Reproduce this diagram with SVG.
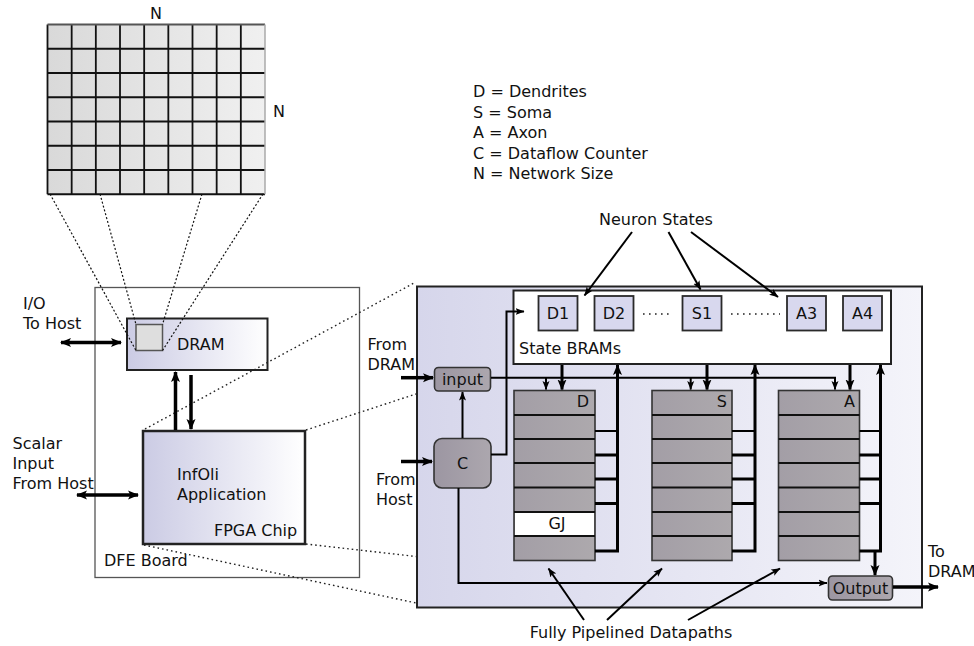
<svg xmlns="http://www.w3.org/2000/svg" width="974" height="646" viewBox="0 0 974 646">
<style>
text{font-family:"DejaVu Sans","Liberation Sans",sans-serif;font-size:16px;fill:#111}
.mid{text-anchor:middle}
.end{text-anchor:end}
.gl{stroke:#111;stroke-width:1.8;fill:none}
.dot1{stroke:#111;stroke-width:1.2;stroke-dasharray:2 2;fill:none}
.dot2{stroke:#222;stroke-width:1.4;stroke-dasharray:1.6 3;fill:none}
.thk{stroke:#000;stroke-width:3.5;fill:none}
.th3{stroke:#000;stroke-width:3;fill:none}
.thn{stroke:#000;stroke-width:2;fill:none}
.box{stroke:#222;stroke-width:2}
.st{fill:#d8d8ee;stroke:#2a2a2a;stroke-width:1.8}
.pipe{fill:url(#gPipe);stroke:#333;stroke-width:1.6}
.row{stroke:#111;stroke-width:2}
.proc{fill:url(#gProc);stroke:#333;stroke-width:1.6}
</style>
<defs>
<linearGradient id="gGrid" x1="0" x2="1" y1="0" y2="0"><stop offset="0" stop-color="#d9d9d9"/><stop offset="1" stop-color="#f0f0f0"/></linearGradient>
<linearGradient id="gBig" x1="0" x2="1" y1="0" y2="0"><stop offset="0" stop-color="#d6d6eb"/><stop offset="1" stop-color="#f4f4fa"/></linearGradient>
<linearGradient id="gChip" x1="0" x2="1" y1="0" y2="0"><stop offset="0" stop-color="#cbcbe4"/><stop offset="1" stop-color="#ffffff"/></linearGradient>
<linearGradient id="gPipe" x1="0" x2="1" y1="0" y2="0"><stop offset="0" stop-color="#a39ea6"/><stop offset="1" stop-color="#ada9ad"/></linearGradient>
<linearGradient id="gProc" x1="0" x2="1" y1="0" y2="0"><stop offset="0" stop-color="#9c96a2"/><stop offset="1" stop-color="#aca7ae"/></linearGradient>
<marker id="ah" markerUnits="userSpaceOnUse" markerWidth="12" markerHeight="10" refX="10" refY="5" orient="auto-start-reverse"><path d="M0,0.5 L11,5 L0,9.5 L2.5,5 z" fill="#000"/></marker>
<marker id="as" markerUnits="userSpaceOnUse" markerWidth="10" markerHeight="8" refX="8.5" refY="4" orient="auto-start-reverse"><path d="M0,0.5 L9,4 L0,7.5 L2,4 z" fill="#000"/></marker>
</defs>

<!-- Network grid -->
<g id="grid">
<rect x="47.5" y="24.5" width="217.5" height="169.75" fill="url(#gGrid)"/>
<g class="gl">
<path d="M47.5,24.5V194.25M71.67,24.5V194.25M95.83,24.5V194.25M120,24.5V194.25M144.17,24.5V194.25M168.33,24.5V194.25M192.5,24.5V194.25M216.67,24.5V194.25M240.83,24.5V194.25"/>
<path d="M47.5,48.75H265M47.5,73H265M47.5,97.25H265M47.5,121.5H265M47.5,145.75H265M47.5,170H265M47.5,194.25H265"/>
</g>
<path d="M47.5,24.5H265" stroke="#555" stroke-width="2"/>
<path d="M265,24.5V194.25" stroke="#aaa" stroke-width="1.5"/>
<text x="156" y="19" class="mid">N</text>
<text x="279" y="117" class="mid">N</text>
</g>

<!-- Legend -->
<g id="legend">
<text x="473" y="97">D = Dendrites</text>
<text x="473" y="117.5">S = Soma</text>
<text x="473" y="138">A = Axon</text>
<text x="473" y="158.5">C = Dataflow Counter</text>
<text x="473" y="179">N = Network Size</text>
</g>

<!-- DFE board side -->
<g id="dfe-board">
<rect x="95" y="287.5" width="264.5" height="290" fill="#fff" stroke="#555" stroke-width="1.3"/>
<text x="104" y="566">DFE Board</text>
</g>
<g id="dram">
<rect x="127" y="318.5" width="140.5" height="51.5" fill="url(#gChip)" class="box"/>
<rect x="136" y="324.5" width="26.5" height="26" fill="#dedede" stroke="#555" stroke-width="1.5"/>
<text x="177" y="349.5">DRAM</text>
</g>
<g id="fpga">
<rect x="143" y="431" width="162" height="113" fill="url(#gChip)" stroke="#222" stroke-width="2.5"/>
<text x="177" y="480">InfOli</text>
<text x="177" y="500">Application</text>
<text x="214" y="536">FPGA Chip</text>
</g>
<g id="left-labels">
<text x="23" y="309">I/O</text>
<text x="23" y="329">To Host</text>
<text x="12.5" y="449">Scalar</text>
<text x="12.5" y="469">Input</text>
<text x="12.5" y="489">From Host</text>
</g>

<!-- Big FPGA detail box -->
<g id="fpga-detail">
<rect x="417" y="286.5" width="505" height="321" fill="url(#gBig)" stroke="#222" stroke-width="2"/>
<text x="367.5" y="349.5">From</text>
<text x="367.5" y="369.5">DRAM</text>
<text x="376" y="485">From</text>
<text x="376" y="505">Host</text>
<text x="928" y="557">To</text>
<text x="928" y="577">DRAM</text>
</g>

<g id="state-brams">
<rect x="513.5" y="290.5" width="377.5" height="73.5" fill="#fff" class="box"/>
<text x="519" y="354">State BRAMs</text>
<rect class="st" x="538.5" y="296" width="39" height="34.5"/><text class="mid" x="558" y="319">D1</text>
<rect class="st" x="594.5" y="296" width="39" height="34.5"/><text class="mid" x="614" y="319">D2</text>
<rect class="st" x="682.5" y="296" width="39" height="34.5"/><text class="mid" x="702" y="319">S1</text>
<rect class="st" x="787" y="296" width="39" height="34.5"/><text class="mid" x="806.5" y="319">A3</text>
<rect class="st" x="843" y="296" width="39" height="34.5"/><text class="mid" x="862.5" y="319">A4</text>
<path d="M643,314H673M731,314H780" stroke="#222" stroke-width="1.6" stroke-dasharray="1.6 4.4"/>
</g>

<g id="input">
<rect x="434.5" y="367.5" width="56" height="23.5" rx="4" class="proc"/>
<text class="mid" x="462.5" y="384.5">input</text>
</g>
<g id="counter">
<rect x="434" y="438.5" width="57" height="49.5" rx="8" class="proc"/>
<text class="mid" x="462.5" y="468.5">C</text>
</g>
<g id="output">
<rect x="828.5" y="576" width="64" height="24" rx="4" class="proc"/>
<text class="mid" x="860.5" y="593.5">Output</text>
</g>

<g id="pipe-d">
<rect class="pipe" x="514" y="390.5" width="81" height="170"/>
<rect x="515" y="512" width="79" height="24" fill="#fff"/>
<path class="row" d="M514,415H595M514,439H595M514,463H595M514,487.5H595M514,512H595M514,536H595"/>
<text class="end" x="589" y="407">D</text>
<text class="mid" x="557" y="529">GJ</text>
</g>
<g id="pipe-s">
<rect class="pipe" x="652" y="390.5" width="80" height="170"/>
<path class="row" d="M652,415H732M652,439H732M652,463H732M652,487.5H732M652,512H732M652,536H732"/>
<text class="end" x="727" y="407">S</text>
</g>
<g id="pipe-a">
<rect class="pipe" x="778.5" y="390.5" width="81" height="170"/>
<path class="row" d="M778.5,415H859.5M778.5,439H859.5M778.5,463H859.5M778.5,487.5H859.5M778.5,512H859.5M778.5,536H859.5"/>
<text class="end" x="855" y="407">A</text>
</g>

<g id="labels">
<text x="656" y="225" class="mid">Neuron States</text>
<text x="631" y="638" class="mid">Fully Pipelined Datapaths</text>
</g>

<!-- Connectors -->
<g id="connectors">
<!-- grid to DRAM -->
<path class="dot1" d="M50,194L136,350.5M100,194L136,324.5M202,194L162.5,324.5M263,194L162.5,350.5"/>
<!-- FPGA chip to detail -->
<path class="dot2" d="M145,429L414,283M306,430L416,394M306,544L416,556.5M144,545L416,603"/>
<!-- left arrows -->
<path class="thk" d="M61,342.5H121" marker-start="url(#ah)" marker-end="url(#ah)"/>
<path class="thk" d="M77,495H138" marker-start="url(#ah)" marker-end="url(#ah)"/>
<path class="thk" d="M175.5,430V372" marker-end="url(#ah)"/>
<path class="thk" d="M191,375V429" marker-end="url(#ah)"/>
<!-- external -->
<path class="thk" d="M401,377.7H433" marker-end="url(#ah)"/>
<path class="thk" d="M401,461.5H432" marker-end="url(#ah)"/>
<path class="thk" d="M893,587H938" marker-end="url(#ah)"/>
<!-- neuron states -->
<path class="thn" d="M632,232L584.5,295.5" marker-end="url(#as)"/>
<path class="thn" d="M668.5,232L700.5,289.5" marker-end="url(#as)"/>
<path class="thn" d="M691,232L778,297" marker-end="url(#as)"/>
<!-- input distribution -->
<path class="thn" d="M491,377.7H835V389.5" marker-end="url(#as)"/>
<path class="thn" d="M546,377.7V389.5" marker-end="url(#as)"/>
<path class="thn" d="M690.7,377.7V389.5" marker-end="url(#as)"/>
<!-- state to pipelines -->
<path class="th3" d="M562,365V389.5" marker-end="url(#ah)"/>
<path class="th3" d="M707,365V389.5" marker-end="url(#ah)"/>
<path class="th3" d="M850,365V389.5" marker-end="url(#ah)"/>
<!-- counter -->
<path class="thn" d="M462.5,438V392" marker-end="url(#as)"/>
<path class="thn" d="M491,454.5H506.5V311.5H524" marker-end="url(#as)"/>
<path class="thn" d="M458.5,488V583H827" marker-end="url(#as)"/>
<!-- feedback D -->
<path class="th3" d="M595,551H617.5V365" marker-end="url(#ah)"/>
<path class="thn" d="M595,431H617.5"/>
<path class="th3" d="M595,455H617.5M595,479H617.5M595,503.5H617.5"/>
<!-- feedback S -->
<path class="th3" d="M732,551H755V365" marker-end="url(#ah)"/>
<path class="thn" d="M732,431H755"/>
<path class="th3" d="M732,455H755M732,479H755M732,503.5H755"/>
<!-- feedback A -->
<path class="th3" d="M859.5,551H880.5V365" marker-end="url(#ah)"/>
<path class="thn" d="M859.5,431H880.5"/>
<path class="th3" d="M859.5,455H880.5M859.5,479H880.5M859.5,503.5H880.5"/>
<path class="th3" d="M875,551V575" marker-end="url(#ah)"/>
<!-- datapath labels -->
<path class="thn" d="M584,620L548.5,568.5" marker-end="url(#as)"/>
<path class="thn" d="M607,620L662,568.5" marker-end="url(#as)"/>
<path class="thn" d="M688,620L780,568.5" marker-end="url(#as)"/>
</g>
</svg>
